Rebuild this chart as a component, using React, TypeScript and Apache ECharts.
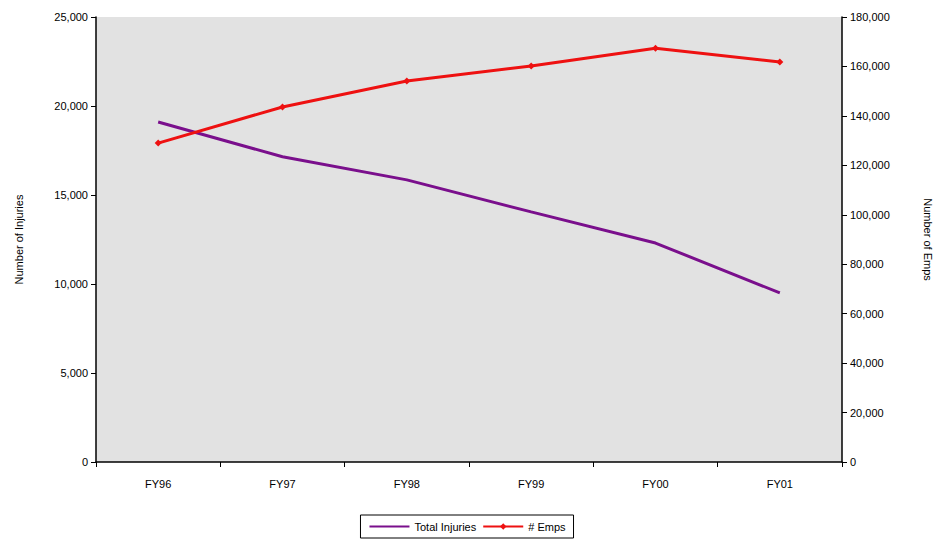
import React, { useEffect, useRef } from "react";
import * as echarts from "echarts";

const categories = ["FY96", "FY97", "FY98", "FY99", "FY00", "FY01"];
const totalInjuries = [19100, 17150, 15850, 14050, 12300, 9500];
const emps = [129000, 143600, 154100, 160200, 167400, 161800];
const leftTicks = [0, 5000, 10000, 15000, 20000, 25000];
const rightTicks = [0, 20000, 40000, 60000, 80000, 100000, 120000, 140000, 160000, 180000];

const font = "Liberation Sans, Arial, sans-serif";

export default function App() {
  const ref = useRef<HTMLDivElement>(null);
  useEffect(() => {
    if (!ref.current) return;
    const chart = echarts.init(ref.current, undefined, { renderer: "svg" });
    const fmt = (v: number) => v.toLocaleString("en-US");
    chart.setOption({
      animation: false,
      backgroundColor: "#ffffff",
      textStyle: { fontFamily: font },
      grid: {
        left: 96,
        right: 92,
        top: 17,
        bottom: 84,
        containLabel: false,
        outerBoundsMode: "none",
        show: true,
        backgroundColor: "#e2e2e2",
        borderWidth: 0,
      },
      legend: {
        bottom: 8,
        left: "center",
        data: [
          { name: "Total Injuries", itemStyle: { opacity: 0 } },
          { name: "# Emps" },
        ],
        borderColor: "#000",
        borderWidth: 1,
        padding: [6, 8],
        itemGap: 6,
        itemWidth: 40,
        itemHeight: 8,
        textStyle: { fontFamily: font, fontSize: 11, color: "#000" },
      },
      xAxis: {
        type: "category",
        data: categories,
        boundaryGap: true,
        axisLine: { lineStyle: { color: "#000", width: 1.5 } },
        axisTick: { show: true, alignWithLabel: false, length: 5, lineStyle: { color: "#000" } },
        axisLabel: { color: "#000", fontSize: 11, margin: 16, fontFamily: font },
        splitLine: { show: false },
      },
      yAxis: [
        {
          type: "value",
          min: leftTicks[0],
          max: leftTicks[leftTicks.length - 1],
          interval: 5000,
          name: "Number of Injuries",
          nameLocation: "middle",
          nameGap: 72,
          nameTextStyle: { color: "#000", fontSize: 11, fontFamily: font },
          axisLine: { show: true, lineStyle: { color: "#000", width: 1.5 } },
          axisTick: { show: true, length: 5, lineStyle: { color: "#000" } },
          axisLabel: { color: "#000", fontSize: 11, margin: 8, formatter: fmt, fontFamily: font },
          splitLine: { show: false },
        },
        {
          type: "value",
          min: rightTicks[0],
          max: rightTicks[rightTicks.length - 1],
          interval: 20000,
          name: "Number of Emps",
          nameLocation: "middle",
          nameGap: 80,
          nameRotate: -90,
          nameTextStyle: { color: "#000", fontSize: 11, fontFamily: font },
          axisLine: { show: true, lineStyle: { color: "#000", width: 1.5 } },
          axisTick: { show: true, length: 5, lineStyle: { color: "#000" } },
          axisLabel: { color: "#000", fontSize: 11, margin: 8, formatter: fmt, fontFamily: font },
          splitLine: { show: false },
        },
      ],
      series: [
        {
          name: "Total Injuries",
          type: "line",
          yAxisIndex: 0,
          data: totalInjuries,
          symbol: "none",
          lineStyle: { color: "#7a0f8c", width: 3 },
          itemStyle: { color: "#7a0f8c" },
        },
        {
          name: "# Emps",
          type: "line",
          yAxisIndex: 1,
          data: emps,
          symbol: "diamond",
          symbolSize: 7,
          lineStyle: { color: "#ee1111", width: 3 },
          itemStyle: { color: "#ee1111" },
        },
      ],
    });
    return () => chart.dispose();
  }, []);
  return (
    <div
      ref={ref}
      style={{ position: "fixed", left: 0, top: 0, width: 934, height: 546 }}
    />
  );
}
